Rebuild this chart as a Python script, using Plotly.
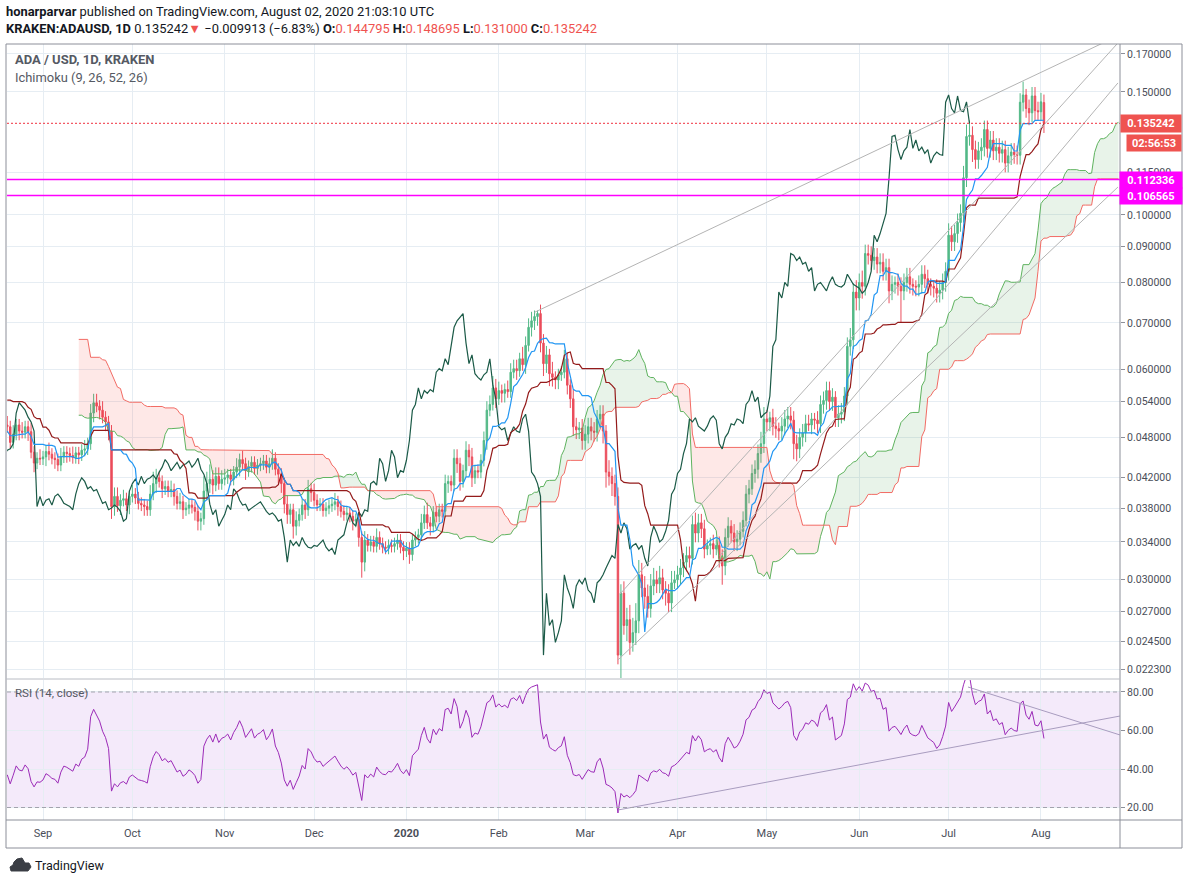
import numpy as np
import pandas as pd
import plotly.graph_objects as go

W, H = 1188, 884
FONT = "Roboto, 'Open Sans', Arial, sans-serif"

# ---------------- DATA ----------------
# hidden warm-up bars (2019-06-25 .. 2019-08-19) that only feed the indicator windows
warm_start = "2019-06-25"
warm_close = [0.0850, 0.0820, 0.0780, 0.0810, 0.0840, 0.0800,
              0.0830, 0.0790, 0.0775, 0.0760, 0.0770, 0.0780, 0.0765, 0.0770, 0.0750, 0.0710,
              0.0690, 0.0685, 0.0655, 0.0620, 0.0640, 0.0575, 0.0590, 0.0625, 0.0610, 0.0628,
              0.0618, 0.0600, 0.0590, 0.0588, 0.0598, 0.0605, 0.0580, 0.0588, 0.0598, 0.0605, 0.0615,
              0.0598, 0.0590, 0.0595, 0.0580, 0.0578, 0.0550, 0.0555, 0.0548, 0.0530, 0.0512,
              0.0518, 0.0508, 0.0490, 0.0462, 0.0468, 0.0470, 0.0462, 0.0480, 0.0500]
warm_high = [0.0910, 0.0880, 0.0840, 0.0830, 0.0860, 0.0855,
             0.0850, 0.0876, 0.0800, 0.0790, 0.0785, 0.0800, 0.0790, 0.0790, 0.0785, 0.0760,
             0.0735, 0.0705, 0.0700, 0.0660, 0.0655, 0.0645, 0.0600, 0.0640, 0.0645, 0.0650,
             0.0640, 0.0625, 0.0610, 0.0605, 0.0615, 0.0620, 0.0635, 0.0600, 0.0610, 0.0620, 0.0630,
             0.0625, 0.0610, 0.0605, 0.0600, 0.0592, 0.0593, 0.0565, 0.0565, 0.0555, 0.0535,
             0.0530, 0.0530, 0.0515, 0.0495, 0.0478, 0.0482, 0.0478, 0.0488, 0.0510]
warm_low = [0.0830, 0.0800, 0.0750, 0.0765, 0.0795, 0.0780,
            0.0780, 0.0780, 0.0760, 0.0745, 0.0740, 0.0760, 0.0755, 0.0745, 0.0740, 0.0700,
            0.0670, 0.0665, 0.0645, 0.0600, 0.0605, 0.0560, 0.0545, 0.0580, 0.0595, 0.0605,
            0.0605, 0.0590, 0.0575, 0.0570, 0.0580, 0.0590, 0.0570, 0.0570, 0.0580, 0.0590, 0.0600,
            0.0590, 0.0580, 0.0580, 0.0570, 0.0565, 0.0540, 0.0540, 0.0535, 0.0520, 0.0500,
            0.0505, 0.0500, 0.0480, 0.0450, 0.0452, 0.0458, 0.0455, 0.0455, 0.0475]

# visible daily closes, 2019-08-20 .. 2020-08-02
close_aug19 = [0.0497, 0.0472, 0.0485, 0.0500, 0.0490, 0.0488, 0.0497, 0.0489, 0.0457, 0.0441, 0.0448, 0.0447]
close_sep19 = [0.0450, 0.0458, 0.0454, 0.0448, 0.0446, 0.0438, 0.0450, 0.0457, 0.0455, 0.0452,
               0.0449, 0.0456, 0.0453, 0.0460, 0.0462, 0.0470, 0.0520, 0.0538, 0.0532, 0.0525,
               0.0513, 0.0505, 0.0490, 0.0382, 0.0395, 0.0383, 0.0390, 0.0392, 0.0384, 0.0395]
close_oct19 = [0.0398, 0.0393, 0.0386, 0.0384, 0.0382, 0.0378, 0.0398, 0.0412, 0.0420, 0.0415,
               0.0405, 0.0408, 0.0402, 0.0404, 0.0395, 0.0386, 0.0388, 0.0378, 0.0380, 0.0384,
               0.0381, 0.0376, 0.0364, 0.0367, 0.0402, 0.0412, 0.0418, 0.0410, 0.0422, 0.0412, 0.0418]
close_nov19 = [0.0420, 0.0424, 0.0418, 0.0428, 0.0435, 0.0446, 0.0440, 0.0430, 0.0436, 0.0442,
               0.0433, 0.0438, 0.0440, 0.0444, 0.0435, 0.0440, 0.0448, 0.0432, 0.0425, 0.0412,
               0.0385, 0.0372, 0.0378, 0.0358, 0.0365, 0.0372, 0.0384, 0.0378, 0.0405, 0.0400]
close_dec19 = [0.0390, 0.0384, 0.0385, 0.0377, 0.0380, 0.0383, 0.0385, 0.0388, 0.0382, 0.0376,
               0.0372, 0.0374, 0.0370, 0.0364, 0.0366, 0.0345, 0.0318, 0.0342, 0.0336, 0.0340,
               0.0335, 0.0345, 0.0338, 0.0334, 0.0333, 0.0336, 0.0335, 0.0338, 0.0342, 0.0334, 0.0330]
close_jan20 = [0.0333, 0.0326, 0.0342, 0.0345, 0.0348, 0.0362, 0.0372, 0.0362, 0.0358, 0.0375,
               0.0370, 0.0378, 0.0376, 0.0412, 0.0415, 0.0410, 0.0448, 0.0440, 0.0415, 0.0430,
               0.0460, 0.0450, 0.0420, 0.0430, 0.0428, 0.0445, 0.0475, 0.0525, 0.0535, 0.0565, 0.0545]
close_feb20 = [0.0560, 0.0555, 0.0562, 0.0558, 0.0595, 0.0602, 0.0598, 0.0622, 0.0610, 0.0650,
               0.0690, 0.0705, 0.0715, 0.0722, 0.0655, 0.0612, 0.0630, 0.0592, 0.0585, 0.0580,
               0.0590, 0.0595, 0.0622, 0.0570, 0.0545, 0.0497, 0.0492, 0.0495, 0.0475]
close_mar20 = [0.0485, 0.0497, 0.0490, 0.0488, 0.0510, 0.0518, 0.0490, 0.0428, 0.0422, 0.0412,
               0.0395, 0.0234, 0.0287, 0.0258, 0.0263, 0.0244, 0.0252, 0.0262, 0.0305, 0.0292,
               0.0284, 0.0273, 0.0294, 0.0300, 0.0296, 0.0302, 0.0290, 0.0287, 0.0278, 0.0297, 0.0300]
close_apr20 = [0.0305, 0.0312, 0.0318, 0.0325, 0.0322, 0.0360, 0.0350, 0.0362, 0.0355, 0.0332,
               0.0336, 0.0338, 0.0332, 0.0336, 0.0322, 0.0314, 0.0345, 0.0358, 0.0350, 0.0340,
               0.0343, 0.0352, 0.0365, 0.0398, 0.0405, 0.0426, 0.0432, 0.0455, 0.0470, 0.0510]
close_may20 = [0.0505, 0.0512, 0.0498, 0.0494, 0.0490, 0.0498, 0.0510, 0.0515, 0.0508, 0.0470,
               0.0462, 0.0480, 0.0487, 0.0502, 0.0500, 0.0510, 0.0508, 0.0502, 0.0535, 0.0542,
               0.0560, 0.0540, 0.0548, 0.0512, 0.0518, 0.0522, 0.0550, 0.0648, 0.0662, 0.0775, 0.0760]
close_jun20 = [0.0800, 0.0790, 0.0880, 0.0875, 0.0860, 0.0870, 0.0850, 0.0855, 0.0830, 0.0840,
               0.0778, 0.0795, 0.0800, 0.0790, 0.0778, 0.0800, 0.0815, 0.0795, 0.0790, 0.0788,
               0.0795, 0.0822, 0.0810, 0.0795, 0.0790, 0.0785, 0.0772, 0.0780, 0.0800, 0.0830]
close_jul20 = [0.0935, 0.0915, 0.0940, 0.0975, 0.1005, 0.1130, 0.1295, 0.1300, 0.1240, 0.1200,
               0.1235, 0.1250, 0.1325, 0.1245, 0.1280, 0.1235, 0.1250, 0.1225, 0.1240, 0.1186,
               0.1215, 0.1230, 0.1220, 0.1217, 0.1450, 0.1485, 0.1420, 0.1400, 0.1480, 0.1410, 0.1405]
close_aug20 = [0.145155, 0.135242]

# wick lengths beyond the candle body, % (upper / lower), same day order
up_aug19 = [3, 2, 3, 2, 2, 3, 2, 2, 3, 2, 2, 3]
dn_aug19 = [2, 2, 2, 2, 3, 2, 2, 3, 2, 3, 2, 2]
up_sep19 = [2, 2, 3, 2, 2, 2, 3, 2, 2, 2, 3, 2, 2, 2, 3, 2, 3, 3, 3, 2, 3, 2, 2, 2, 3, 3, 2, 3, 2, 2]
dn_sep19 = [2, 3, 2, 2, 3, 2, 2, 2, 3, 2, 2, 2, 3, 2, 2, 2, 2, 3, 2, 3, 2, 3, 3, 4, 3, 2, 3, 2, 2, 3]
up_oct19 = [3, 2, 2, 2, 2, 2, 3, 4, 3, 2, 2, 2, 2, 3, 2, 2, 3, 2, 2, 2, 2, 2, 2, 2, 5, 4, 5, 3, 3, 3, 3]
dn_oct19 = [2, 2, 2, 2, 3, 2, 2, 2, 3, 2, 3, 2, 2, 2, 3, 2, 2, 3, 2, 2, 2, 3, 3, 3, 2, 3, 3, 3, 2, 2, 2]
up_nov19 = [3, 2, 2, 2, 3, 2, 3, 2, 2, 2, 2, 2, 2, 2, 2, 2, 3, 2, 2, 2, 2, 3, 2, 2, 3, 2, 2, 2, 3, 2]
dn_nov19 = [2, 2, 2, 2, 2, 3, 2, 3, 2, 2, 2, 2, 2, 2, 2, 2, 2, 2, 3, 3, 3, 3, 3, 4, 3, 2, 2, 3, 2, 3]
up_dec19 = [3, 2, 2, 2, 2, 2, 2, 3, 2, 2, 2, 2, 2, 2, 2, 2, 2, 3, 2, 2, 2, 3, 2, 2, 2, 2, 2, 2, 2, 2, 2]
dn_dec19 = [2, 2, 2, 2, 2, 2, 2, 2, 3, 2, 2, 2, 2, 3, 2, 3, 5, 3, 2, 2, 2, 2, 2, 2, 2, 2, 2, 2, 2, 2, 3]
up_jan20 = [2, 2, 2, 2, 2, 3, 3, 4, 2, 2, 2, 2, 2, 3, 2, 2, 3, 3, 2, 2, 3, 2, 3, 2, 2, 2, 3, 3, 3, 4, 3]
dn_jan20 = [2, 3, 2, 2, 2, 2, 2, 2, 3, 2, 2, 2, 2, 2, 3, 2, 2, 3, 3, 2, 2, 3, 3, 2, 2, 2, 2, 3, 2, 2, 3]
up_feb20 = [3, 2, 2, 3, 3, 3, 3, 2, 4, 3, 3, 3, 2, 1, 3, 3, 3, 2, 4, 2, 2, 2, 3, 2, 2, 3, 3, 2, 3]
dn_feb20 = [2, 3, 3, 2, 2, 2, 3, 2, 2, 3, 2, 3, 3, 3, 3, 4, 3, 4, 3, 3, 3, 2, 2, 3, 3, 3, 3, 3, 3]
up_mar20 = [3, 3, 3, 3, 3, 3, 3, 2, 4, 3, 3, 3, 3, 4, 4, 5, 5, 6, 5, 4, 4, 4, 4, 4, 3, 4, 3, 3, 3, 4, 3]
dn_mar20 = [3, 3, 3, 3, 3, 3, 4, 5, 3, 4, 3, 3, 21, 3, 5, 4, 3, 4, 4, 3, 4, 3, 3, 3, 3, 3, 3, 4, 3, 3, 2]
up_apr20 = [3, 3, 3, 3, 3, 3, 4, 3, 3, 3, 2, 2, 3, 2, 3, 3, 3, 3, 2, 3, 3, 3, 3, 3, 3, 3, 3, 3, 4, 4]
dn_apr20 = [3, 3, 3, 3, 3, 2, 3, 3, 3, 3, 2, 3, 3, 2, 3, 6, 3, 3, 3, 3, 3, 2, 2, 2, 3, 2, 3, 3, 3, 3]
up_may20 = [3, 2, 3, 3, 2, 3, 3, 3, 3, 3, 3, 3, 3, 3, 3, 2, 2, 3, 3, 3, 3, 3, 3, 2, 3, 3, 3, 3, 4, 3, 4]
dn_may20 = [3, 3, 3, 3, 3, 3, 3, 3, 3, 5, 4, 3, 3, 3, 2, 3, 3, 3, 3, 3, 3, 3, 3, 3, 3, 3, 3, 3, 3, 3, 4]
up_jun20 = [3, 4, 3, 3, 3, 3, 3, 3, 3, 3, 3, 3, 2, 3, 3, 3, 3, 3, 2, 2, 3, 3, 3, 3, 2, 2, 3, 3, 3, 3]
dn_jun20 = [4, 4, 3, 3, 3, 3, 3, 3, 3, 3, 4, 3, 3, 3, 10, 3, 3, 3, 3, 3, 3, 3, 3, 3, 3, 3, 3, 3, 3, 3]
up_jul20 = [4, 3, 3, 3, 3, 4, 4, 5, 3, 3, 3, 3, 3, 3, 3, 3, 3, 3, 3, 3, 3, 3, 3, 3, 3, 4.5, 2, 3, 3, 3, 3]
dn_jul20 = [3, 3, 3, 3, 3, 3, 3, 3, 4, 3, 3, 3, 3, 3, 3, 3, 3, 3, 3, 3, 3, 3, 3, 3, 3, 3, 3, 4, 3, 3, 3]
up_aug20 = [3, 0]
dn_aug20 = [3, 0]

# last bar as given in the header
last_open, last_high, last_low, last_close = 0.144795, 0.148695, 0.131000, 0.135242

hline_levels = [0.112336, 0.106565]
countdown_text = "02:56:53"

month_ticks = ["2019-09-01", "2019-10-01", "2019-11-01", "2019-12-01", "2020-01-01", "2020-02-01",
               "2020-03-01", "2020-04-01", "2020-05-01", "2020-06-01", "2020-07-01", "2020-08-01"]
month_labels = ["Sep", "Oct", "Nov", "Dec", "<b>2020</b>", "Feb", "Mar", "Apr", "May", "Jun", "Jul", "Aug"]
price_ticks = [0.0223, 0.0245, 0.027, 0.030, 0.034, 0.038, 0.042, 0.048, 0.054, 0.060,
               0.070, 0.080, 0.090, 0.100, 0.115, 0.150, 0.170]
rsi_ticks = [20, 40, 60, 80]

# drawn trend lines: (date0, value0, date1, value1)
price_trendlines = [
    ("2020-02-13", 0.0725, "2020-08-27 12:00", 0.181),
    ("2020-03-12 16:00", 0.02862, "2020-08-26 20:00", 0.1763),
    ("2020-03-12", 0.02303, "2020-08-26 20:00", 0.1096),
    ("2020-04-15 06:00", 0.0325, "2020-08-26 20:00", 0.1545),
]
rsi_trendlines = [
    ("2020-03-12", 18.7, "2020-08-27 12:00", 67.5),
    ("2020-07-07 12:00", 82.6, "2020-08-27 12:00", 57.7),
]

# ---------------- BUILD SERIES ----------------
vis_close = (close_aug19 + close_sep19 + close_oct19 + close_nov19 + close_dec19 + close_jan20 +
             close_feb20 + close_mar20 + close_apr20 + close_may20 + close_jun20 + close_jul20 + close_aug20)
up_pct = np.array(up_aug19 + up_sep19 + up_oct19 + up_nov19 + up_dec19 + up_jan20 + up_feb20 +
                  up_mar20 + up_apr20 + up_may20 + up_jun20 + up_jul20 + up_aug20, dtype=float)
dn_pct = np.array(dn_aug19 + dn_sep19 + dn_oct19 + dn_nov19 + dn_dec19 + dn_jan20 + dn_feb20 +
                  dn_mar20 + dn_apr20 + dn_may20 + dn_jun20 + dn_jul20 + dn_aug20, dtype=float)

nw = len(warm_close)
closes = np.array(warm_close + vis_close, dtype=float)
n = len(closes)
dates = pd.date_range(warm_start, periods=n, freq="D")
opens = np.r_[closes[0], closes[:-1]]
opens[-1] = last_open
body_hi = np.maximum(opens, closes)
body_lo = np.minimum(opens, closes)
highs = np.r_[np.array(warm_high), body_hi[nw:] * (1 + up_pct / 100)]
lows = np.r_[np.array(warm_low), body_lo[nw:] * (1 - dn_pct / 100)]
highs[-1] = last_high
lows[-1] = last_low

hi_s, lo_s = pd.Series(highs), pd.Series(lows)


def donchian(k):
    return ((hi_s.rolling(k).max() + lo_s.rolling(k).min()) / 2).values


tenkan = donchian(9)
kijun = donchian(26)
span_a = (tenkan + kijun) / 2
span_b = donchian(52)
shift = pd.Timedelta(days=25)

# RSI (Wilder)
delta = np.diff(closes, prepend=np.nan)
gain = np.where(delta > 0, delta, 0.0)
loss = np.where(delta < 0, -delta, 0.0)
ag = np.full(n, np.nan)
al = np.full(n, np.nan)
ag[14] = gain[1:15].mean()
al[14] = loss[1:15].mean()
for i in range(15, n):
    ag[i] = (ag[i - 1] * 13 + gain[i]) / 14
    al[i] = (al[i - 1] * 13 + loss[i]) / 14
rsi = 100 - 100 / (1 + ag / al)

# ---------------- LAYOUT GEOMETRY ----------------
def pxx(p):
    return p / W


def pxy(p):
    return 1 - p / H


XDOM = [pxx(7), pxx(1120)]
MAIN_DOM = [pxy(678), pxy(44)]
RSI_DOM = [pxy(820), pxy(680)]
LOG_RANGE = [-1.66358, -0.75527]
RSI_RANGE = [13.51, 86.23]
X_RANGE = ["2019-08-19 22:00", "2020-08-27 12:40"]


def price_to_paper(p):
    f = (np.log10(p) - LOG_RANGE[0]) / (LOG_RANGE[1] - LOG_RANGE[0])
    return MAIN_DOM[0] + f * (MAIN_DOM[1] - MAIN_DOM[0])


GRID = "#e6edf3"
TXT = "#4a4e59"
UP, DOWN = "#53b987", "#eb4d5c"

fig = go.Figure()

# ---- Ichimoku cloud (shown from 2019-09-13)
i0 = int(np.where(dates == pd.Timestamp("2019-08-19"))[0][0])
xs = dates[i0:] + shift
sa = span_a[i0:]
sb = span_b[i0:]
top = np.maximum(sa, sb)
fig.add_trace(go.Scatter(x=xs, y=sb, mode="lines", line=dict(width=0), hoverinfo="skip"))
fig.add_trace(go.Scatter(x=xs, y=top, mode="lines", line=dict(width=0), fill="tonexty",
                         fillcolor="rgba(67,160,71,0.12)", hoverinfo="skip"))
fig.add_trace(go.Scatter(x=xs, y=sa, mode="lines", line=dict(width=0), hoverinfo="skip"))
fig.add_trace(go.Scatter(x=xs, y=top, mode="lines", line=dict(width=0), fill="tonexty",
                         fillcolor="rgba(244,67,54,0.12)", hoverinfo="skip"))
fig.add_trace(go.Scatter(x=xs, y=sa, mode="lines", line=dict(color="#5fb35f", width=1)))
fig.add_trace(go.Scatter(x=xs, y=sb, mode="lines", line=dict(color="#f26b64", width=1)))

# ---- candles
fig.add_trace(go.Candlestick(
    x=dates[nw:], open=opens[nw:], high=highs[nw:], low=lows[nw:], close=closes[nw:],
    increasing=dict(line=dict(color=UP, width=1), fillcolor=UP),
    decreasing=dict(line=dict(color=DOWN, width=1), fillcolor=DOWN),
    whiskerwidth=0, hoverinfo="skip"))

# ---- Ichimoku lines
fig.add_trace(go.Scatter(x=dates - shift, y=closes, mode="lines", line=dict(color="#1b5a47", width=1.2)))
fig.add_trace(go.Scatter(x=dates[nw:], y=kijun[nw:], mode="lines", line=dict(color="#941b1b", width=1.2)))
fig.add_trace(go.Scatter(x=dates[nw:], y=tenkan[nw:], mode="lines", line=dict(color="#2196f3", width=1.2)))

# ---- trend lines (main pane)
for d0, v0, d1, v1 in price_trendlines:
    fig.add_trace(go.Scatter(x=[d0, d1], y=[v0, v1], mode="lines", line=dict(color="#b4b4b4", width=1)))

# ---- horizontal levels
for lv in hline_levels:
    fig.add_trace(go.Scatter(x=X_RANGE, y=[lv, lv], mode="lines", line=dict(color="#ff00ff", width=1.5)))
fig.add_trace(go.Scatter(x=X_RANGE, y=[last_close, last_close], mode="lines",
                         line=dict(color="#f0313f", width=1, dash="2px,2px")))

# ---- RSI pane
fig.add_trace(go.Scatter(x=dates[nw:], y=rsi[nw:], mode="lines", line=dict(color="#9c2bb8", width=1),
                         xaxis="x2", yaxis="y2"))
for d0, v0, d1, v1 in rsi_trendlines:
    fig.add_trace(go.Scatter(x=[d0, d1], y=[v0, v1], mode="lines", line=dict(color="#a89cbf", width=1),
                             xaxis="x2", yaxis="y2"))

shapes = [
    # RSI band
    dict(type="rect", xref="paper", yref="y2", x0=XDOM[0], x1=XDOM[1], y0=20, y1=80,
         fillcolor="rgba(156,60,210,0.11)", line=dict(width=0), layer="below"),
    dict(type="line", xref="paper", yref="y2", x0=XDOM[0], x1=XDOM[1], y0=80, y1=80,
         line=dict(color="#a3a3ad", width=1, dash="4px,3px")),
    dict(type="line", xref="paper", yref="y2", x0=XDOM[0], x1=XDOM[1], y0=20, y1=20,
         line=dict(color="#a3a3ad", width=1, dash="4px,3px")),
    # frame and separators
    dict(type="rect", xref="paper", yref="paper", x0=pxx(6), x1=pxx(1182), y0=pxy(848), y1=pxy(44),
         line=dict(color="#8c8f99", width=1)),
    dict(type="line", xref="paper", yref="paper", x0=pxx(1120), x1=pxx(1120), y0=pxy(848), y1=pxy(44),
         line=dict(color="#8c8f99", width=1)),
    dict(type="line", xref="paper", yref="paper", x0=pxx(6), x1=pxx(1182), y0=pxy(820), y1=pxy(820),
         line=dict(color="#8c8f99", width=1)),
    dict(type="line", xref="paper", yref="paper", x0=pxx(6), x1=pxx(1120), y0=pxy(679), y1=pxy(679),
         line=dict(color="#b9bcc4", width=1)),
]

# TradingView logo (simple cloud glyph)
logo_pts = [(11, 871), (28, 871), (31, 867), (29, 863), (25, 863), (22, 858), (17, 859), (14, 862), (13, 865), (10, 867)]
path = "M " + " L ".join(f"{pxx(a):.5f},{pxy(b):.5f}" for a, b in logo_pts) + " Z"
shapes.append(dict(type="path", xref="paper", yref="paper", path=path, fillcolor="#3b3e45",
                   line=dict(color="#3b3e45", width=1)))

prev_close = closes[-2]
chg = last_close - prev_close
pct = chg / prev_close * 100
RED = "#ef5350"
sign = "−" if chg < 0 else "+"
arrow = "▼" if chg < 0 else "▲"

annotations = [
    dict(x=pxx(4), y=pxy(12), xref="paper", yref="paper", xanchor="left", yanchor="middle", showarrow=False,
         text="<b>honarparvar</b> published on TradingView.com, August 02, 2020 21:03:10 UTC",
         font=dict(family=FONT, size=12.9, color="#131722")),
    dict(x=pxx(4), y=pxy(29), xref="paper", yref="paper", xanchor="left", yanchor="middle", showarrow=False,
         text=(f"<b>KRAKEN:ADAUSD, 1D</b> {last_close:.6f}<span style='color:{RED}'>{arrow}</span> "
               f"{sign}{abs(chg):.6f} ({sign}{abs(pct):.2f}%) "
               f"<b>O:</b><span style='color:{RED}'>{last_open:.6f}</span> "
               f"<b>H:</b><span style='color:{RED}'>{last_high:.6f}</span> "
               f"<b>L:</b><span style='color:{RED}'>{last_low:.6f}</span> "
               f"<b>C:</b><span style='color:{RED}'>{last_close:.6f}</span>"),
         font=dict(family=FONT, size=12.9, color="#131722")),
    dict(x=pxx(13), y=pxy(60), xref="paper", yref="paper", xanchor="left", yanchor="middle", showarrow=False,
         text="<b>ADA / USD, 1D, KRAKEN</b>", font=dict(family=FONT, size=13, color="#555963")),
    dict(x=pxx(13), y=pxy(77), xref="paper", yref="paper", xanchor="left", yanchor="middle", showarrow=False,
         text="Ichimoku (9, 26, 52, 26)", font=dict(family=FONT, size=12.9, color="#555963")),
    dict(x=pxx(13), y=pxy(693), xref="paper", yref="paper", xanchor="left", yanchor="middle", showarrow=False,
         text="RSI (14, close)", font=dict(family=FONT, size=11.5, color="#555963")),
    dict(x=pxx(33), y=pxy(865), xref="paper", yref="paper", xanchor="left", yanchor="middle", showarrow=False,
         text="TradingView", font=dict(family=FONT, size=12.5, color="#131722")),
    # price scale labels
    dict(x=pxx(1120), y=price_to_paper(last_close), xref="paper", yref="paper", xanchor="left",
         yanchor="middle", showarrow=False, text=f"<b>{last_close:.6f}</b>", bgcolor=RED,
         width=58, height=15, borderpad=1, font=dict(family=FONT, size=11, color="white")),
    dict(x=pxx(1126), y=pxy(143), xref="paper", yref="paper", xanchor="left",
         yanchor="middle", showarrow=False, text=f"<b>{countdown_text}</b>", bgcolor=RED,
         width=52, height=14, borderpad=1, font=dict(family=FONT, size=11, color="white")),
]
for lv in hline_levels:
    annotations.append(dict(x=pxx(1119), y=price_to_paper(lv), xref="paper", yref="paper", xanchor="left",
                            yanchor="middle", showarrow=False, text=f"<b>{lv:.6f}</b>", bgcolor="#ff00ff",
                            width=60, height=14, borderpad=1, font=dict(family=FONT, size=11, color="white")))

fig.update_layout(
    width=W, height=H, margin=dict(l=0, r=0, t=0, b=0), autosize=False,
    paper_bgcolor="white", plot_bgcolor="white", showlegend=False,
    font=dict(family=FONT, size=11, color=TXT),
    xaxis=dict(domain=XDOM, anchor="y", type="date", range=X_RANGE, tickvals=month_ticks,
               ticktext=month_labels, showticklabels=False, showgrid=True, gridcolor=GRID,
               zeroline=False, showline=False, ticks="", rangeslider=dict(visible=False), fixedrange=True),
    yaxis=dict(domain=MAIN_DOM, anchor="x", type="log", range=LOG_RANGE, side="right",
               tickvals=price_ticks, ticktext=[f"{v:.6f}" for v in price_ticks],
               ticks="outside", ticklen=4, tickcolor="#8c8f99", showgrid=True, gridcolor=GRID,
               zeroline=False, showline=False, tickfont=dict(size=10.5, color=TXT, family=FONT)),
    xaxis2=dict(domain=XDOM, anchor="y2", type="date", range=X_RANGE, matches="x",
                tickvals=month_ticks, ticktext=month_labels, showticklabels=True, showgrid=True,
                gridcolor=GRID, zeroline=False, showline=False, ticks="outside", ticklen=3,
                tickcolor="white", tickfont=dict(size=11, color=TXT, family=FONT),
                rangeslider=dict(visible=False)),
    yaxis2=dict(domain=RSI_DOM, anchor="x2", range=RSI_RANGE, side="right", tickvals=rsi_ticks,
                ticktext=[f"{v:.2f}" for v in rsi_ticks], ticks="outside", ticklen=4, tickcolor="#8c8f99",
                showgrid=True, gridcolor=GRID, zeroline=False, showline=False,
                tickfont=dict(size=10.5, color=TXT, family=FONT)),
    shapes=shapes, annotations=annotations,
)

fig.write_html("out.html", config={"displayModeBar": False})
